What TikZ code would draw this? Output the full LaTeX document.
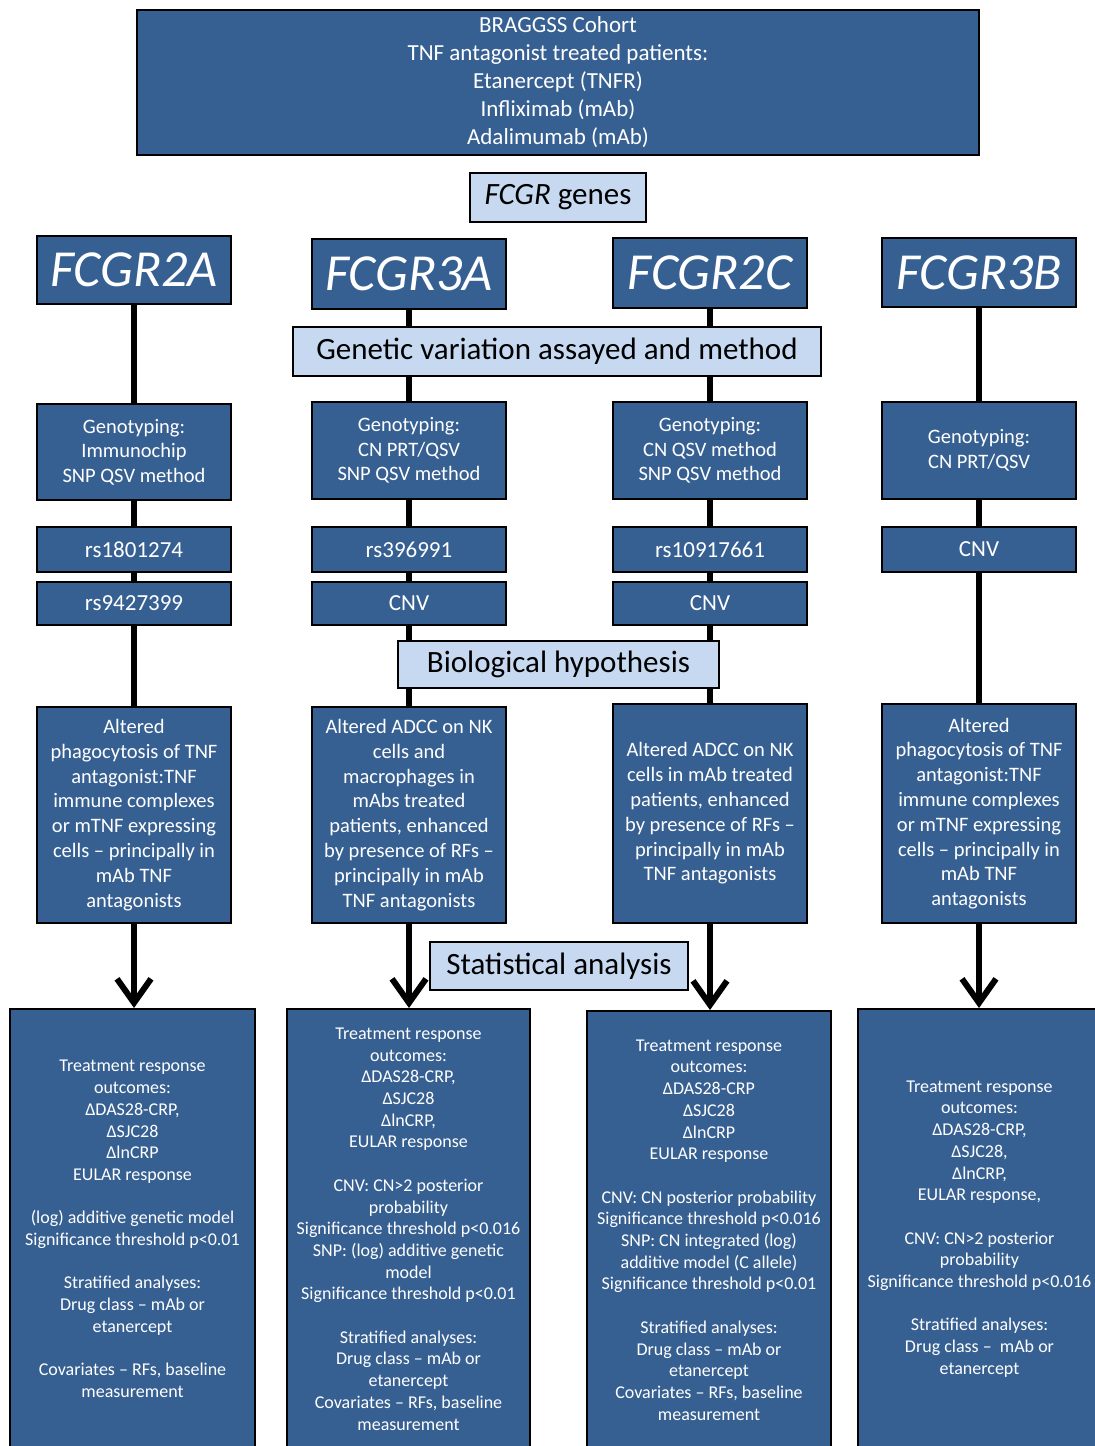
\documentclass[tikz,border=0pt]{standalone}
\usepackage{fontspec}
\setmainfont{Carlito}
\usetikzlibrary{arrows.meta}
\pgfdeclarelayer{bg}
\pgfsetlayers{bg,main}
\definecolor{dkblue}{HTML}{376092}
\definecolor{ltblue}{HTML}{C6D9F1}

\begin{document}
\begin{tikzpicture}[x=1pt,y=-1pt,
  box/.style={draw=black, line width=2pt, inner sep=0pt, align=center, anchor=center},
  dk/.style={box, fill=dkblue, text=white},
  lt/.style={box, fill=ltblue, text=black},
  colbox/.style={minimum width=194pt},
  fhead/.style={font=\fontsize{23}{28}\selectfont},
  fgene/.style={font=\fontsize{52}{52}\selectfont\itshape},
  fstage/.style={font=\fontsize{31}{32}\selectfont},
  fgeno/.style={font=\fontsize{20.5}{24.5}\selectfont},
  fvar/.style={font=\fontsize{23}{24}\selectfont},
  fhyp/.style={font=\fontsize{20.5}{24.8}\selectfont},
  fstat/.style={font=\fontsize{18}{21.7}\selectfont},
  link/.style={line width=6pt},
  arr/.style={link, -{Straight Barb[length=24pt,width=34pt]}}
]
\useasboundingbox (0,0) rectangle (1095,1446);
\clip (0,0) rectangle (1095,1446);

% cohort
\node[dk, fhead, minimum width=842pt, minimum height=145pt] (cohort) at (558,82.5)
  {BRAGGSS Cohort\\TNF antagonist treated patients:\\Etanercept (TNFR)\\Infliximab (mAb)\\Adalimumab (mAb)};

% stage labels
\node[lt, fstage, minimum width=176pt, minimum height=49pt] (genes) at (558,197.5) {\textit{FCGR} genes};
\node[lt, fstage, minimum width=528pt, minimum height=49pt] (gvar) at (557,351.5) {Genetic variation assayed and method};
\node[lt, fstage, minimum width=321pt, minimum height=47pt] (bio) at (558.5,664.5) {Biological hypothesis};
\node[lt, fstage, minimum width=258pt, minimum height=48pt] (stat) at (559,966) {Statistical analysis};

% genes
\node[dk, colbox, fgene, minimum height=68pt] (g1) at (134,270) {FCGR2A};
\node[dk, colbox, fgene, minimum height=70pt] (g2) at (409,274) {FCGR3A};
\node[dk, colbox, fgene, minimum height=70pt] (g3) at (710,273) {FCGR2C};
\node[dk, colbox, fgene, minimum height=69pt] (g4) at (979,272.5) {FCGR3B};

% genotyping
\node[dk, colbox, fgeno, minimum height=96pt] (t1) at (134,452) {Genotyping:\\Immunochip\\SNP QSV method};
\node[dk, colbox, fgeno, minimum height=97pt] (t2) at (409,450.5) {Genotyping:\\CN PRT/QSV\\SNP QSV method};
\node[dk, colbox, fgeno, minimum height=97pt] (t3) at (710,450.5) {Genotyping:\\CN QSV method\\SNP QSV method};
\node[dk, colbox, fgeno, minimum height=97pt] (t4) at (979,450.5) {Genotyping:\\CN PRT/QSV};

% variants
\node[dk, colbox, fvar, minimum height=45pt] (v1) at (134,549.5) {rs1801274};
\node[dk, colbox, fvar, minimum height=45pt] (v2) at (409,549.5) {rs396991};
\node[dk, colbox, fvar, minimum height=45pt] (v3) at (710,549.5) {rs10917661};
\node[dk, colbox, fvar, minimum height=45pt] (v4) at (979,549.5) {CNV};
\node[dk, colbox, fvar, minimum height=43pt] (w1) at (134,603.5) {rs9427399};
\node[dk, colbox, fvar, minimum height=43pt] (w2) at (409,603.5) {CNV};
\node[dk, colbox, fvar, minimum height=43pt] (w3) at (710,603.5) {CNV};

% hypotheses
\node[dk, colbox, fhyp, minimum height=216pt] (h1) at (134,815)
  {Altered\\phagocytosis of TNF\\antagonist:TNF\\immune complexes\\or mTNF expressing\\cells -- principally in\\mAb TNF\\antagonists};
\node[dk, colbox, fhyp, minimum height=216pt] (h2) at (409,815)
  {Altered ADCC on NK\\cells and\\macrophages in\\mAbs treated\\patients, enhanced\\by presence of RFs --\\principally in mAb\\TNF antagonists};
\node[dk, colbox, fhyp, minimum height=219pt] (h3) at (710,813.5)
  {Altered ADCC on NK\\cells in mAb treated\\patients, enhanced\\by presence of RFs --\\principally in mAb\\TNF antagonists};
\node[dk, colbox, fhyp, minimum height=219pt] (h4) at (979,813.5)
  {Altered\\phagocytosis of TNF\\antagonist:TNF\\immune complexes\\or mTNF expressing\\cells -- principally in\\mAb TNF\\antagonists};

% analyses
\node[dk, fstat, minimum width=245pt, minimum height=440pt] (a1) at (132.5,1229)
  {Treatment response\\outcomes:\\ΔDAS28-CRP,\\ΔSJC28\\ΔlnCRP\\EULAR response\\[21.7pt]
   (log) additive genetic model\\Significance threshold p<0.01\\[21.7pt]
   Stratified analyses:\\Drug class -- mAb or\\etanercept\\[21.7pt]
   Covariates -- RFs, baseline\\measurement};
\node[dk, fstat, minimum width=243pt, minimum height=440pt] (a2) at (408.5,1229)
  {Treatment response\\outcomes:\\ΔDAS28-CRP,\\ΔSJC28\\ΔlnCRP,\\EULAR response\\[21.7pt]
   CNV: CN>2 posterior\\probability\\Significance threshold p<0.016\\SNP: (log) additive genetic\\model\\Significance threshold p<0.01\\[21.7pt]
   Stratified analyses:\\Drug class -- mAb or\\etanercept\\Covariates -- RFs, baseline\\measurement};
\node[dk, fstat, minimum width=244pt, minimum height=438pt] (a3) at (709,1230)
  {Treatment response\\outcomes:\\ΔDAS28-CRP\\ΔSJC28\\ΔlnCRP\\EULAR response\\[21.7pt]
   CNV: CN posterior probability\\Significance threshold p<0.016\\SNP: CN integrated (log)\\additive model (C allele)\\Significance threshold p<0.01\\[21.7pt]
   Stratified analyses:\\Drug class -- mAb or\\etanercept\\Covariates -- RFs, baseline\\measurement};
\node[dk, fstat, minimum width=243pt, minimum height=440pt] (a4) at (979.5,1229)
  {Treatment response\\outcomes:\\ΔDAS28-CRP,\\ΔSJC28,\\ΔlnCRP,\\EULAR response,\\[21.7pt]
   CNV: CN>2 posterior\\probability\\Significance threshold p<0.016\\[21.7pt]
   Stratified analyses:\\Drug class --~ mAb or\\etanercept};

% connectors behind the boxes
\begin{pgfonlayer}{bg}
  \foreach \c in {1,2,3,4} {
    \draw[link] (g\c.south) -- (t\c.north);
    \draw[link] (t\c.south) -- (v\c.north);
  }
  \foreach \c in {1,2,3} {
    \draw[link] (v\c.south) -- (w\c.north);
    \draw[link] (w\c.south) -- (h\c.north);
  }
  \draw[link] (v4.south) -- (h4.north);
  \foreach \c in {1,2,3,4} {
    \draw[arr] (h\c.south) -- (h\c.south |- a\c.north);
  }
\end{pgfonlayer}
\end{tikzpicture}
\end{document}
